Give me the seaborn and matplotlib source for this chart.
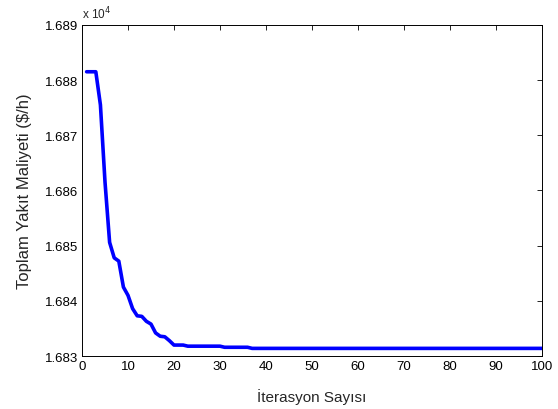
import numpy as np
import pandas as pd
import matplotlib
matplotlib.use("Agg")
import matplotlib.pyplot as plt
from matplotlib.ticker import FuncFormatter
import seaborn as sns

# iteration numbers and best cost per iteration ($/h)
iterations = list(range(1, 101))
cost = ([16881.5, 16881.5, 16881.5, 16875.5, 16861.5, 16850.6, 16847.8, 16847.2,
         16842.5, 16841.0, 16838.6, 16837.3, 16837.2, 16836.3, 16835.8, 16834.2,
         16833.6, 16833.5, 16832.8, 16832.0, 16832.0, 16832.0]
        + [16831.8] * 8
        + [16831.6] * 6
        + [16831.4] * 64)

x_ticks = [0, 10, 20, 30, 40, 50, 60, 70, 80, 90, 100]
y_ticks = [16830, 16840, 16850, 16860, 16870, 16880, 16890]


def main():
    sns.set_style("white")
    plt.rcParams['font.family'] = ['Liberation Sans', 'DejaVu Sans']

    df = pd.DataFrame({'iter': iterations, 'cost': cost})

    fig = plt.figure(figsize=(5.58, 4.10), dpi=100)
    ax = fig.add_axes([0.147, 0.129, 0.824, 0.808])

    sns.lineplot(x='iter', y='cost', data=df, color=(0, 0, 1), linewidth=2.6, ax=ax)

    ax.set_xlim(0, 100)
    ax.set_ylim(16830, 16890)
    ax.set_xticks(x_ticks)
    ax.set_yticks(y_ticks)
    ax.yaxis.set_major_formatter(FuncFormatter(lambda v, p: "%.3f" % (v / 1e4)))

    ax.tick_params(direction='in', length=3.5, width=0.6, labelsize=9.5,
                   top=True, right=True, colors='black', pad=3)
    for s in ax.spines.values():
        s.set_visible(True)
        s.set_color('black')
        s.set_linewidth(0.7)

    ax.set_xlabel("İterasyon Sayısı", fontsize=11, labelpad=11)
    ax.set_ylabel("Toplam Yakıt Maliyeti ($/h)", fontsize=12, labelpad=9)
    ax.text(0.0, 1.01, "x 10$^{4}$", transform=ax.transAxes, fontsize=8.5,
            ha='left', va='bottom')

    fig.savefig("out.png", dpi=100)


if __name__ == "__main__":
    main()
